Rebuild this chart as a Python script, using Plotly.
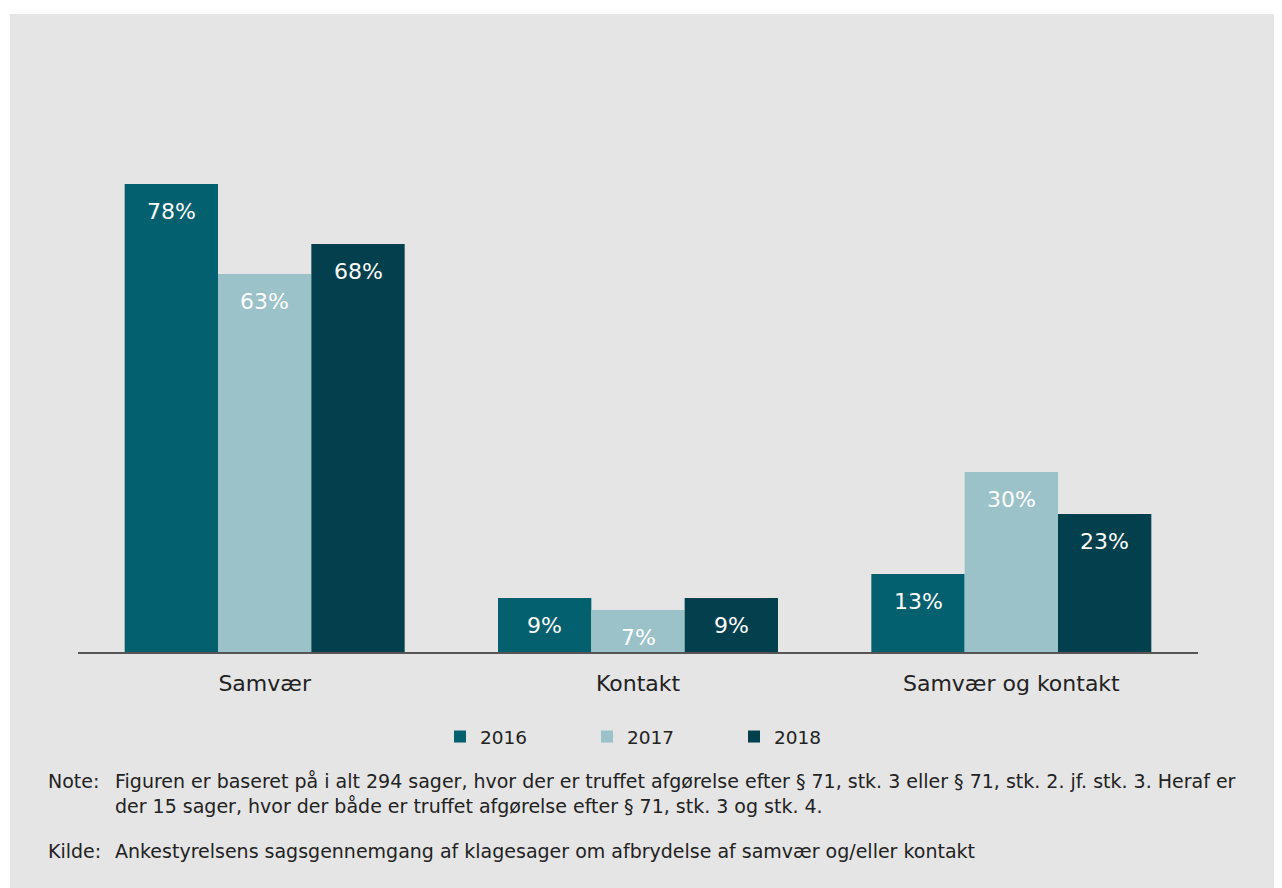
import plotly.graph_objects as go

categories = ["Samvær", "Kontakt", "Samvær og kontakt"]
years = ["2016", "2017", "2018"]
values_2016 = [78, 9, 13]
values_2017 = [63, 7, 30]
values_2018 = [68, 9, 23]
colors = ["#03606f", "#9bc2c9", "#01404c"]
note_lines = [
    "Figuren er baseret på i alt 294 sager, hvor der er truffet afgørelse efter § 71, stk. 3 eller § 71, stk. 2. jf. stk. 3. Heraf er",
    "der 15 sager, hvor der både er truffet afgørelse efter § 71, stk. 3 og stk. 4.",
]
source_text = "Ankestyrelsens sagsgennemgang af klagesager om afbrydelse af samvær og/eller kontakt"

series = [values_2016, values_2017, values_2018]
FONT = "DejaVu Sans, Verdana, sans-serif"

# page body has an 8px margin; figure coordinates = reference - 8
OFF = 8
W, H = 1274, 880
ml, mr, mt, mb = 70, 84, 164, 236
pw, ph = W - ml - mr, H - mt - mb

def px(xr):
    return (xr - OFF - ml) / pw

def py(yr):
    return (H - mb - (yr - OFF)) / ph

fig = go.Figure()
for name, vals, col in zip(years, series, colors):
    fig.add_trace(go.Bar(
        x=categories, y=vals, name=name,
        marker=dict(color=col, line=dict(width=0)),
        hoverinfo="x+y+name",
    ))

annotations = []
n = len(series)
group_w = 0.75
bw = group_w / n
for s_i, vals in enumerate(series):
    off = -group_w / 2 + bw * (s_i + 0.5)
    for c_i, v in enumerate(vals):
        annotations.append(dict(
            x=c_i + off, y=v, xref="x", yref="y", text=f"{v}%",
            showarrow=False, yshift=-27, yanchor="middle",
            font=dict(family=FONT, size=22, color="white"),
        ))

text_color = "#222222"
note_font = dict(family=FONT, size=19, color=text_color)
annotations += [
    dict(x=px(46), y=py(781), xref="paper", yref="paper", text="Note:",
         showarrow=False, xanchor="left", yanchor="middle", font=note_font),
    dict(x=px(113), y=py(781), xref="paper", yref="paper", text=note_lines[0],
         showarrow=False, xanchor="left", yanchor="middle", font=note_font),
    dict(x=px(113), y=py(806), xref="paper", yref="paper", text=note_lines[1],
         showarrow=False, xanchor="left", yanchor="middle", font=note_font),
    dict(x=px(46), y=py(851), xref="paper", yref="paper", text="Kilde:",
         showarrow=False, xanchor="left", yanchor="middle", font=note_font),
    dict(x=px(113), y=py(851), xref="paper", yref="paper", text=source_text,
         showarrow=False, xanchor="left", yanchor="middle", font=note_font),
]

fig.update_layout(
    width=W, height=H,
    margin=dict(l=ml, r=mr, t=mt, b=mb, pad=0),
    paper_bgcolor="white",
    plot_bgcolor="rgba(0,0,0,0)",
    barmode="group", bargap=0.25, bargroupgap=0,
    font=dict(family=FONT, color=text_color),
    showlegend=True,
    legend=dict(
        orientation="h", x=px(480 - 40), xanchor="left", y=py(737), yanchor="middle",
        font=dict(family=FONT, size=18.5, color=text_color),
        entrywidth=102, entrywidthmode="pixels",
        bgcolor="rgba(0,0,0,0)", traceorder="normal",
    ),
    xaxis=dict(
        showline=True, linecolor="#555555", linewidth=2,
        ticks="", showgrid=False, zeroline=False,
        tickfont=dict(family=FONT, size=22, color=text_color),
        ticklabelstandoff=11,
    ),
    yaxis=dict(range=[0, 80], visible=False, showgrid=False, zeroline=False),
    annotations=annotations,
    shapes=[dict(
        type="rect", xref="paper", yref="paper",
        x0=px(10), x1=px(1300), y0=py(900), y1=py(14),
        fillcolor="#e5e5e5", line=dict(width=0), layer="below",
    )],
)

fig.write_html("out.html")
